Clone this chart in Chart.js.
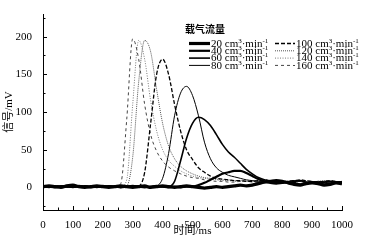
<!DOCTYPE html>
<html>
<head>
<meta charset="utf-8">
<script src="https://cdn.jsdelivr.net/npm/chart.js@4"></script>
<style>
  html, body { margin: 0; padding: 0; background: #fff; }
  #wrap { width: 381px; height: 242px; }
</style>
</head>
<body>
<div id="wrap"><canvas id="chart" width="381" height="242"></canvas></div>
<script>
// time axis, ms
const times = [0,20,40,60,80,100,120,140,160,180,
  200,220,240,260,280,300,320,340,360,380,
  400,420,440,460,480,500,520,540,560,580,
  600,620,640,660,680,700,720,740,760,780,
  800,820,840,860,880,900,920,940,960,980,1000];

// signal, mV, one array per carrier gas flow
const flow20 = [1,2,1,0,2,3,1,0,1,2, 1,0,1,2,1,0,1,2,0,1, 2,1,0,1,2,1,0,-1,0,1, 0,1,2,3,2,3,5,7,8,9, 8,6,4,3,5,6,5,3,4,6, 5];
const flow40 = [2,1,0,1,2,1,2,1,0,1, 2,1,1,0,1,2,1,0,1,2, 1,0,1,0,1,1,3,6,10,14, 18,20,22,22,19,15,11,8,6,5, 6,7,6,4,5,7,6,4,5,7, 6];
const flow60 = [1,0,1,2,1,0,1,2,1,0, 1,2,1,0,1,1,2,1,0,1, 1,1,8,35,65,85,93,90,82,70, 57,47,40,32,24,18,13,10,8,7, 7,6,8,9,7,6,5,7,8,6, 7];
const flow80 = [0,1,2,1,0,1,2,1,1,0, 1,2,1,0,1,2,1,0,1,2, 12,45,95,125,134,122,95,60,38,26, 20,16,14,12,10,9,8,8,7,6, 7,8,9,8,6,7,8,7,6,7, 8];
const flow100 = [1,0,1,2,1,0,1,2,1,0, 1,2,1,0,1,2,2,20,85,150, 170,150,110,75,50,37,26,20,15,12, 11,10,9,9,8,8,9,10,9,8, 7,8,9,10,9,8,7,8,9,8, 7];
const flow120 = [0,1,2,1,0,1,2,1,0,1, 2,1,0,1,2,40,140,195,180,130, 85,55,38,28,22,18,15,13,12,11, 10,10,9,9,8,8,9,9,8,8, 7,8,9,9,8,7,8,9,8,7, 8];
const flow140 = [1,2,1,0,1,2,1,0,1,2, 1,0,1,1,10,110,195,170,115,75, 50,36,28,22,18,15,13,12,11,10, 9,9,8,8,8,9,9,8,7,8, 9,8,7,8,9,8,7,8,9,8, 7];
const flow160 = [0,1,1,2,1,0,1,2,1,0, 1,2,1,5,90,197,170,110,70,48, 35,27,22,18,15,13,12,10,9,8, 8,7,7,8,8,7,6,7,8,8, 7,6,7,8,8,7,6,7,8,7, 6];

const seriesLabels = ['20 cm³·min⁻¹','40 cm³·min⁻¹','60 cm³·min⁻¹','80 cm³·min⁻¹',
  '100 cm³·min⁻¹','120 cm³·min⁻¹','140 cm³·min⁻¹','160 cm³·min⁻¹'];
const xTicks = [0,100,200,300,400,500,600,700,800,900,1000];
const yTicks = [0,50,100,150,200];

const serif = "'Liberation Serif', 'Noto Sans CJK SC', serif";

const toPoints = (vals) => vals.map((v, i) => ({ x: times[i], y: v }));

const styles = [
  { color: '#000', width: 3.2, dash: [] },
  { color: '#000', width: 2.2, dash: [] },
  { color: '#000', width: 1.6, dash: [] },
  { color: '#000', width: 1, dash: [] },
  { color: '#000', width: 1.3, dash: [4, 2] },
  { color: '#555', width: 1, dash: [1, 1] },
  { color: '#777', width: 1, dash: [1, 1.5] },
  { color: '#444', width: 1, dash: [3, 3] },
];

const allSeries = [flow20, flow40, flow60, flow80, flow100, flow120, flow140, flow160];

const datasets = allSeries.map((vals, i) => ({
  label: seriesLabels[i],
  data: toPoints(vals),
  borderColor: styles[i].color,
  borderWidth: styles[i].width,
  borderDash: styles[i].dash,
  pointRadius: 0,
  cubicInterpolationMode: 'monotone',
  fill: false,
}));

// ticks pointing into the plot, with minor ticks
const innerTicks = {
  id: 'innerTicks',
  afterDraw(chart) {
    const ctx = chart.ctx;
    const xs = chart.scales.x, ys = chart.scales.y;
    const area = chart.chartArea;
    ctx.save();
    ctx.strokeStyle = '#000';
    ctx.lineWidth = 1;
    ctx.beginPath();
    for (let v = 0; v <= 1000; v += 50) {
      const px = Math.round(xs.getPixelForValue(v)) + 0.5;
      const len = v % 100 === 0 ? 4 : 2.5;
      ctx.moveTo(px, area.bottom);
      ctx.lineTo(px, area.bottom - len);
    }
    for (let v = -25; v <= 225; v += 25) {
      const py = Math.round(ys.getPixelForValue(v)) + 0.5;
      const len = v % 50 === 0 ? 4 : 2.5;
      ctx.moveTo(area.left, py);
      ctx.lineTo(area.left + len, py);
    }
    ctx.stroke();
    ctx.restore();
  }
};

// draw "cm³·min⁻¹" with real raised small digits
const supMap = { '³': '3', '⁻': '-', '¹': '1' };
function drawRich(ctx, text, x, y) {
  for (const ch of text) {
    if (supMap[ch]) {
      ctx.font = '7px ' + serif;
      ctx.fillText(supMap[ch], x, y - 3);
      x += ctx.measureText(supMap[ch]).width;
    } else {
      ctx.font = '11px ' + serif;
      ctx.fillText(ch, x, y);
      x += ctx.measureText(ch).width;
    }
  }
}

// two-column legend with title
const legendBox = {
  id: 'legendBox',
  afterDraw(chart) {
    const ctx = chart.ctx;
    ctx.save();
    ctx.fillStyle = '#000';
    ctx.font = "bold 10px 'Noto Sans CJK SC'";
    ctx.textBaseline = 'middle';
    ctx.textAlign = 'left';
    ctx.fillText('载气流量', 185, 29.5);
    const rows = [43.5, 50.8, 58.1, 65.4];
    const cols = [{ x0: 189, x1: 210 }, { x0: 275, x1: 295 }];
    chart.data.datasets.forEach((ds, i) => {
      const c = cols[Math.floor(i / 4)];
      const y = rows[i % 4];
      ctx.beginPath();
      ctx.strokeStyle = ds.borderColor;
      ctx.lineWidth = ds.borderWidth;
      ctx.setLineDash(ds.borderDash);
      ctx.moveTo(c.x0, y);
      ctx.lineTo(c.x1, y);
      ctx.stroke();
      ctx.setLineDash([]);
      drawRich(ctx, ds.label, c.x1 + 1, y + 0.5);
    });
    ctx.restore();
  }
};

new Chart(document.getElementById('chart'), {
  type: 'line',
  data: { datasets },
  options: {
    responsive: false,
    animation: false,
    layout: { padding: { top: 14, right: 39, left: 0, bottom: 0 } },
    plugins: { legend: { display: false }, tooltip: { enabled: false } },
    scales: {
      x: {
        type: 'linear',
        min: 0,
        max: 1000,
        afterBuildTicks: (s) => { s.ticks = xTicks.map(v => ({ value: v })); },
        afterFit: (s) => { s.height = 32; },
        grid: { display: false },
        border: { display: true, color: '#000', width: 1 },
        ticks: { color: '#000', padding: 1, maxRotation: 0, callback: (v) => String(v), font: { family: serif, size: 11 } },
        title: { display: true, text: '时间/ms', color: '#000', padding: { top: 0, bottom: 4 }, font: { family: serif, size: 11 } },
      },
      y: {
        min: -30,
        max: 230,
        afterBuildTicks: (s) => { s.ticks = yTicks.map(v => ({ value: v })); },
        afterFit: (s) => { s.width = 43; },
        grid: { display: false },
        border: { display: true, color: '#000', width: 1 },
        ticks: { color: '#000', padding: 3, font: { family: serif, size: 11 } },
        title: { display: true, text: '信号/mV', color: '#000', padding: { top: 3, bottom: 0 }, font: { family: serif, size: 11 } },
      },
    },
  },
  plugins: [innerTicks, legendBox],
});
</script>
</body>
</html>
